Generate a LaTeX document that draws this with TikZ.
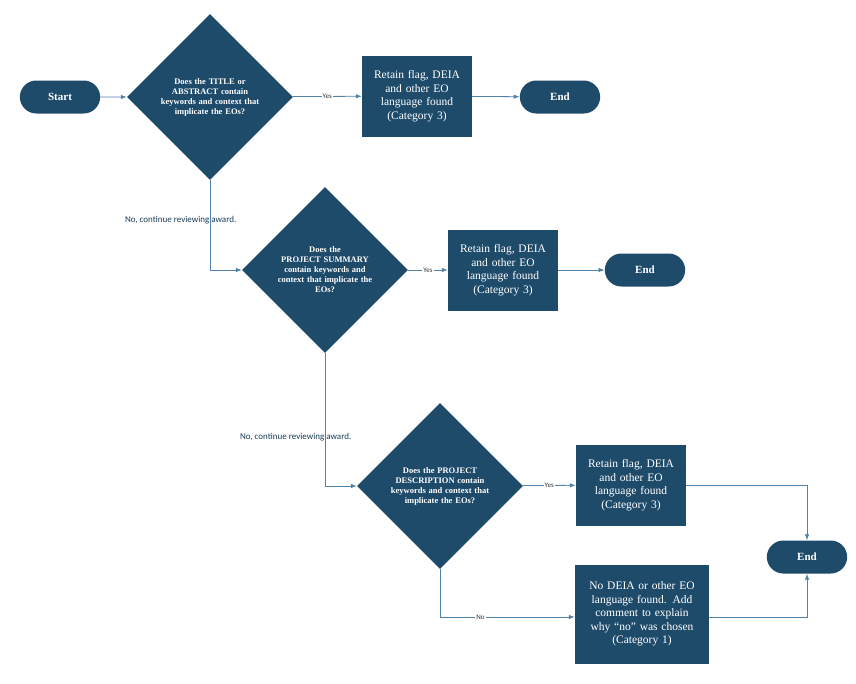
\documentclass[tikz,border=0pt]{standalone}
\usepackage{fontspec}
\setmainfont{Liberation Serif}
\newfontfamily\lblfont{Carlito}
\usetikzlibrary{shapes.geometric,arrows.meta}
\definecolor{boxblue}{HTML}{1F4B6B}
\definecolor{lineblue}{HTML}{4F82AC}
\tikzset{
  term/.style={rounded rectangle,fill=boxblue,text=white,font=\bfseries\fontsize{11}{12}\selectfont,minimum width=87pt,minimum height=33pt},
  decide/.style={diamond,fill=boxblue,text=white,font=\bfseries\fontsize{8.5}{10}\selectfont,align=center,minimum size=166pt,inner sep=0pt,text width=110pt},
  result/.style={rectangle,fill=boxblue,text=white,font=\fontsize{11.5}{13.5}\selectfont,align=center,minimum height=81pt,inner sep=2pt},
  flow/.style={draw=lineblue,thick,-{Latex[length=6pt]}},
  lbl/.style={fill=white,inner sep=1pt,font=\lblfont\fontsize{7}{8}\selectfont,text=black!80},
  nolbl/.style={font=\lblfont\fontsize{9}{10}\selectfont,text=boxblue!80!black}
}
\usetikzlibrary{shapes.misc}
\begin{document}
\begin{tikzpicture}[x=1pt,y=-1pt]
\useasboundingbox (0,0) rectangle (856,683);
% first question
\node[term] (start) at (60,97) {Start};
\node[decide] (q1) at (210,97) {Does the TITLE or\\ABSTRACT contain\\keywords and context that\\implicate the EOs?};
\node[result,text width=106pt] (r1) at (417,96) {Retain flag, DEIA\\and other EO\\language found\\(Category 3)};
\node[term] (end1) at (560,97) {End};
% second question
\node[decide] (q2) at (325,270) {Does the\\PROJECT SUMMARY\\contain keywords and\\context that implicate the\\EOs?};
\node[result,text width=106pt] (r2) at (503,270) {Retain flag, DEIA\\and other EO\\language found\\(Category 3)};
\node[term] (end2) at (645,270) {End};
% third question
\node[decide] (q3) at (440,486) {Does the PROJECT\\DESCRIPTION contain\\keywords and context that\\implicate the EOs?};
\node[result,text width=106pt] (r3) at (631,485) {Retain flag, DEIA\\and other EO\\language found\\(Category 3)};
\node[result,text width=130pt,minimum height=99pt] (r4) at (642,614) {No DEIA or other EO\\language found. Add\\comment to explain\\why ``no'' was chosen\\(Category 1)};
\node[term] (end3) at (807,557) {End};
\coordinate (b1) at (210,270);
\coordinate (b2) at (325,486);
\coordinate (b3) at (440,617);
\coordinate (c3) at (807,485);
\coordinate (c4) at (807,617);
\draw[flow] (start) -- (q1);
\draw[flow] (q1) -- node[lbl]{Yes} (r1);
\draw[flow] (r1) -- (end1);
\draw[flow] (q1.south) -- node[nolbl,pos=0.45,left=-30pt]{No, continue reviewing award.} (b1) -- (q2.west);
\draw[flow] (q2) -- node[lbl]{Yes} (r2);
\draw[flow] (r2) -- (end2);
\draw[flow] (q2.south) -- node[nolbl,pos=0.63,left=-30pt]{No, continue reviewing award.} (b2) -- (q3.west);
\draw[flow] (q3) -- node[lbl]{Yes} (r3);
\draw[flow] (r3.east) -- (c3) -- (end3.north);
\draw[flow] (q3.south) -- (b3) -- node[lbl,pos=0.3]{No} (r4.west |- b3);
\draw[flow] (r4.east |- c4) -- (c4) -- (end3.south);
\end{tikzpicture}
\end{document}
